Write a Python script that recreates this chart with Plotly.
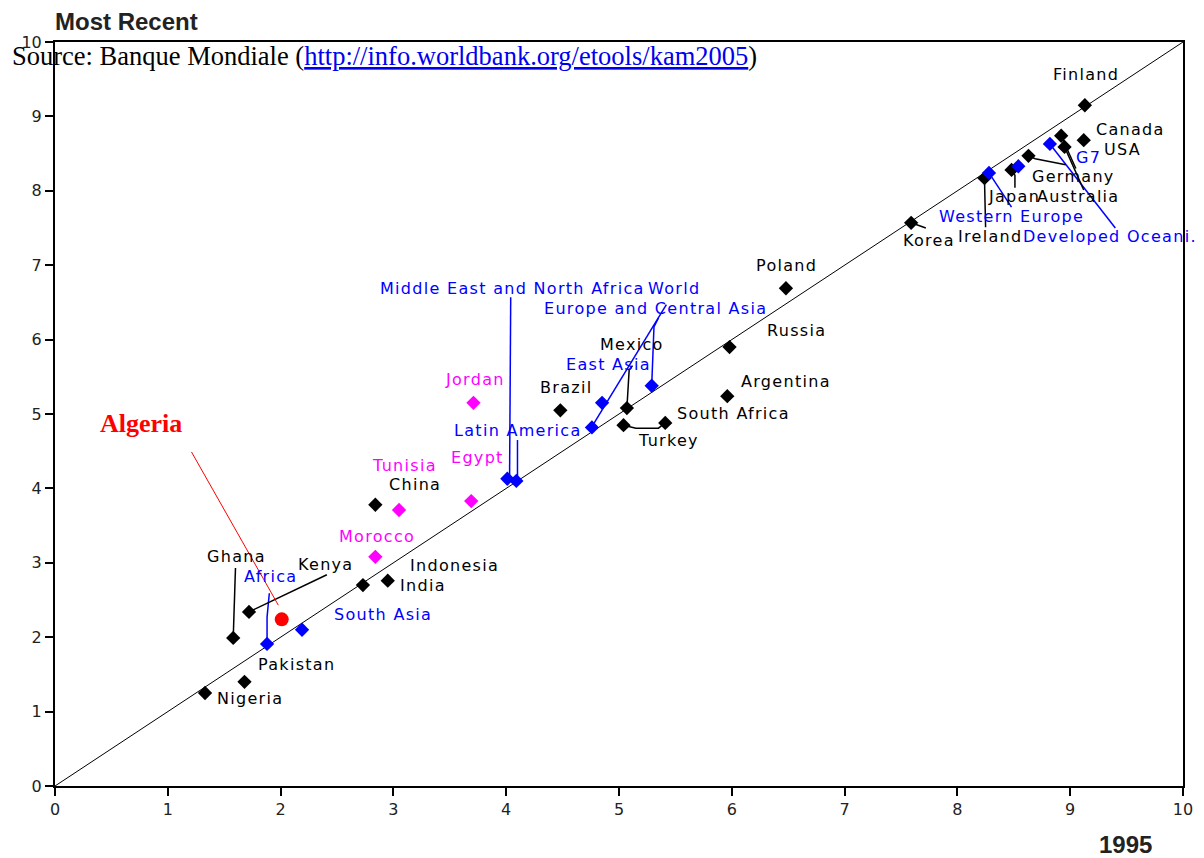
import plotly.graph_objects as go

# ---------------- data ----------------
black_names = ["Finland", "Canada", "USA", "Australia", "Germany", "Japan", "Ireland", "Korea",
               "Poland", "Russia", "Argentina", "South Africa", "Mexico", "Brazil", "Turkey",
               "China", "Indonesia", "India", "Kenya", "Ghana", "Pakistan", "Nigeria"]
black_x = [9.13, 9.12, 8.92, 8.95, 8.63, 8.48, 8.24, 7.59,
           6.48, 5.98, 5.96, 5.41, 5.07, 4.48, 5.04,
           2.84, 2.73, 2.95, 1.72, 1.58, 1.68, 1.33]
black_y = [9.15, 8.68, 8.74, 8.59, 8.47, 8.28, 8.17, 7.57,
           6.69, 5.90, 5.24, 4.88, 5.08, 5.05, 4.85,
           3.78, 2.70, 2.76, 2.34, 1.99, 1.40, 1.25]

blue_names = ["Developed Oceania", "G7", "Western Europe", "Europe and Central Asia", "East Asia",
              "Latin America", "Middle East and North Africa", "World", "South Asia", "Africa"]
blue_x = [8.82, 8.54, 8.28, 5.29, 4.85, 4.76, 4.01, 4.09, 2.19, 1.88]
blue_y = [8.63, 8.33, 8.24, 5.38, 5.15, 4.82, 4.13, 4.10, 2.10, 1.91]

pink_names = ["Jordan", "Egypt", "Tunisia", "Morocco"]
pink_x = [3.71, 3.69, 3.05, 2.84]
pink_y = [5.15, 3.83, 3.71, 3.08]

algeria_x = [2.01]
algeria_y = [2.24]

diag = [0, 10]
ticks = list(range(0, 11))

# label anchor positions (data units, left edge / vertical centre)
black_labels = [("Finland", 8.83, 9.56), ("Canada", 9.21, 8.82), ("USA", 9.28, 8.55),
                ("Germany", 8.64, 8.19), ("Japan", 8.25, 7.92), ("Australia", 8.69, 7.92),
                ("Korea", 7.50, 7.33), ("Ireland", 7.99, 7.38), ("Poland", 6.20, 6.99),
                ("Russia", 6.29, 6.12), ("Mexico", 4.81, 5.93), ("Brazil", 4.28, 5.35),
                ("Argentina", 6.06, 5.44), ("South Africa", 5.50, 5.01), ("Turkey", 5.15, 4.64),
                ("China", 2.94, 4.05), ("Indonesia", 3.13, 2.97), ("India", 3.04, 2.70),
                ("Kenya", 2.14, 2.98), ("Ghana", 1.33, 3.08), ("Pakistan", 1.78, 1.63),
                ("Nigeria", 1.42, 1.17)]
blue_labels = [("Middle East and North Africa", 2.86, 6.69), ("World", 5.24, 6.69),
               ("Europe and Central Asia", 4.32, 6.42), ("East Asia", 4.51, 5.67),
               ("Latin America", 3.52, 4.78), ("G7", 9.03, 8.45), ("Western Europe", 7.82, 7.65),
               ("Developed Oceani.", 8.56, 7.38), ("Africa", 1.66, 2.81), ("South Asia", 2.46, 2.31)]
pink_labels = [("Jordan", 3.44, 5.46), ("Tunisia", 2.79, 4.31), ("Egypt", 3.49, 4.42),
               ("Morocco", 2.50, 3.36)]

# leader lines (data units)
blue_leaders = [
    [(4.03, 4.13), (4.04, 6.57)],
    [(4.10, 4.10), (4.10, 4.65)],
    [(4.76, 4.83), (5.42, 6.47)],
    [(5.29, 5.38), (5.31, 6.17), (5.35, 6.29)],
    [(8.82, 8.63), (9.40, 7.50)],
    [(8.28, 8.24), (8.48, 7.78)],
    [(1.88, 1.91), (1.88, 2.27), (1.90, 2.59)],
]
black_leaders = [
    [(5.07, 5.08), (5.09, 5.59), (5.12, 5.65)],
    [(5.04, 4.85), (5.15, 4.81), (5.35, 4.81), (5.41, 4.88)],
    [(8.63, 8.47), (8.69, 8.43), (8.96, 8.35)],
    [(8.95, 8.59), (9.12, 8.01)],
    [(8.92, 8.74), (9.05, 8.30)],
    [(8.48, 8.28), (8.51, 8.21), (8.51, 8.04)],
    [(8.24, 8.17), (8.25, 7.51)],
    [(7.59, 7.57), (7.72, 7.50)],
    [(1.72, 2.34), (2.41, 2.84)],
    [(1.58, 1.99), (1.59, 2.47), (1.60, 2.93)],
]
red_leader = [(1.21, 4.49), (1.98, 2.43)]


def seg_xy(segs):
    xs, ys = [], []
    for s in segs:
        for p in s:
            xs.append(p[0])
            ys.append(p[1])
        xs.append(None)
        ys.append(None)
    return xs, ys


BLUE = "#0000FF"
PINK = "#FF00FF"
RED = "#FF0000"

fig = go.Figure()

# diagonal
fig.add_trace(go.Scatter(x=diag, y=diag, mode="lines", line=dict(color="black", width=1),
                         hoverinfo="skip", showlegend=False))

bx, by = seg_xy(blue_leaders)
fig.add_trace(go.Scatter(x=bx, y=by, mode="lines", line=dict(color=BLUE, width=1.5),
                         hoverinfo="skip", showlegend=False))
kx, ky = seg_xy(black_leaders)
fig.add_trace(go.Scatter(x=kx, y=ky, mode="lines", line=dict(color="black", width=1.5),
                         hoverinfo="skip", showlegend=False))
rx, ry = seg_xy([red_leader])
fig.add_trace(go.Scatter(x=rx, y=ry, mode="lines", line=dict(color=RED, width=1),
                         hoverinfo="skip", showlegend=False))

fig.add_trace(go.Scatter(x=black_x, y=black_y, text=black_names, mode="markers",
                         marker=dict(symbol="diamond", size=11, color="black"), showlegend=False))
fig.add_trace(go.Scatter(x=blue_x, y=blue_y, text=blue_names, mode="markers",
                         marker=dict(symbol="diamond", size=11, color=BLUE), showlegend=False))
fig.add_trace(go.Scatter(x=pink_x, y=pink_y, text=pink_names, mode="markers",
                         marker=dict(symbol="diamond", size=11, color=PINK), showlegend=False))
fig.add_trace(go.Scatter(x=algeria_x, y=algeria_y, text=["Algeria"], mode="markers",
                         marker=dict(symbol="circle", size=14, color=RED), showlegend=False))

LABEL_FONT = "DejaVu Sans"
annotations = []
for group, col in ((black_labels, "black"), (blue_labels, BLUE), (pink_labels, PINK)):
    for name, lx, ly in group:
        annotations.append(dict(x=lx, y=ly, xref="x", yref="y",
                                text='<span style="letter-spacing:1.3px">' + name + '</span>',
                                showarrow=False, xanchor="left", yanchor="middle",
                                font=dict(family=LABEL_FONT, size=16, color=col)))

annotations.append(dict(x=0.38, y=4.87, xref="x", yref="y", text="<b>Algeria</b>", showarrow=False,
                        xanchor="left", yanchor="middle",
                        font=dict(family="Liberation Serif", size=26, color=RED)))

annotations.append(dict(x=-0.002, y=1.028, xref="paper", yref="paper", text="<b>Most Recent</b>",
                        showarrow=False, xanchor="left", yanchor="middle",
                        font=dict(family="Liberation Sans", size=24, color="#222222")))
annotations.append(dict(x=0.949, y=-0.079, xref="paper", yref="paper", text="<b>1995</b>",
                        showarrow=False, xanchor="center", yanchor="middle",
                        font=dict(family="Liberation Sans", size=24, color="#222222")))
annotations.append(dict(x=-0.0398, y=0.981, xref="paper", yref="paper",
                        text='Source: Banque Mondiale (<a href="http://info.worldbank.org/etools/kam2005">'
                             '<span style="color:#0000EE"><u>http://info.worldbank.org/etools/kam2005</u></span></a>)',
                        showarrow=False, xanchor="left", yanchor="middle",
                        font=dict(family="Liberation Serif", size=26.5, color="black")))

axis_common = dict(range=[0, 10], tickvals=ticks, ticktext=[str(t) for t in ticks],
                   showgrid=False, zeroline=False, showline=True, linecolor="black", linewidth=2,
                   mirror=True, ticks="outside", ticklen=8, tickwidth=2, tickcolor="black",
                   tickfont=dict(family=LABEL_FONT, size=16, color="#222222"))

# the page body adds an 8px offset, so the figure is sized to compensate
fig.update_layout(
    width=1197, height=850,
    margin=dict(l=47, r=18, t=34, b=72),
    paper_bgcolor="white", plot_bgcolor="white",
    xaxis=axis_common, yaxis=axis_common,
    annotations=annotations,
    showlegend=False,
)

fig.write_html("out.html")
